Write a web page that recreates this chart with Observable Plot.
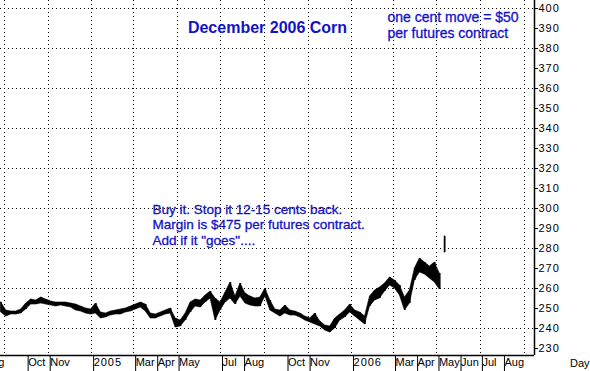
<!DOCTYPE html>
<html>
<head>
<meta charset="utf-8">
<script src="https://cdn.jsdelivr.net/npm/d3@7"></script>
<script src="https://cdn.jsdelivr.net/npm/@observablehq/plot@0.6"></script>
<style>
  html, body { margin: 0; padding: 0; background: #fff; }
  #chart svg { display: block; }
</style>
</head>
<body>
<div id="chart"></div>
<script>
// ---- data (weekly high / low, cents per bushel) ----
const priceDates = [
  "2004-08-27","2004-09-03","2004-09-10","2004-09-17","2004-09-24","2004-10-01","2004-10-08","2004-10-15","2004-10-22","2004-10-29",
  "2004-11-05","2004-11-12","2004-11-19","2004-11-26","2004-12-03","2004-12-10","2004-12-17","2004-12-24","2004-12-31",
  "2005-01-07","2005-01-14","2005-01-21","2005-01-28","2005-02-04","2005-02-11","2005-02-18","2005-02-25",
  "2005-03-04","2005-03-11","2005-03-18","2005-03-25","2005-04-01","2005-04-08","2005-04-15","2005-04-22","2005-04-29",
  "2005-05-06","2005-05-13","2005-05-20","2005-05-27","2005-06-03","2005-06-10","2005-06-17","2005-06-24",
  "2005-07-01","2005-07-08","2005-07-15","2005-07-22","2005-07-29","2005-08-05","2005-08-12","2005-08-19","2005-08-26",
  "2005-09-02","2005-09-09","2005-09-16","2005-09-23","2005-09-30","2005-10-07","2005-10-14","2005-10-21","2005-10-28",
  "2005-11-04","2005-11-11","2005-11-18","2005-11-25","2005-12-02","2005-12-09","2005-12-16","2005-12-23","2005-12-30",
  "2006-01-06","2006-01-13","2006-01-20","2006-01-27","2006-02-03","2006-02-10","2006-02-17","2006-02-24",
  "2006-03-03","2006-03-10","2006-03-17","2006-03-24","2006-03-31","2006-04-07","2006-04-14","2006-04-21","2006-04-28",
  "2006-05-05","2006-05-12"
];
const priceHigh = [
  253,249,248.5,248.5,249.5,252.5,254.5,254,255.5,254.5,
  253.5,253,253,253,252.5,252,251,250,249.5,
  252.5,248,247.5,248.5,249,249.5,250,251,
  252,253,252,247.5,247,248,249,250,245,
  244,247.5,253,254.5,254,256.5,258.5,255,
  253,258,263,256,262.5,257.5,256,255,255.5,
  260,254,249.5,249,251.5,249,248.5,247.5,246,
  245,247.5,243.5,241.5,241,245,247,249,252,
  249,248,246,256,259,260.5,262.5,265.5,
  264,261.5,255.5,259,270,275,273,271,273,
  267.5,286
];
const priceLow = [
  248,246,247,247,247.5,249.5,252,252,252.5,252,
  251.5,251,251.5,251,250.5,249,248.5,247.5,247,
  247.5,245,245.5,246.5,247,247,248,248.5,
  249.5,250.5,248.5,245,245,246,247,247.5,240.5,
  241,244,248,251,250.5,253,255,244,
  249,253,255,252,256,252.5,251.5,251,251,
  256,249,247.5,246,247.5,246.5,246.5,245.5,244,
  243,242,241,239,238,240,244,245.5,248,
  246,244,242,251,254,255,258.5,261.5,
  260,256.5,249,252.5,264,268,267,265,263,
  259.5,278
];
// trading segments (the last week gapped up, drawn apart from the rest)
const priceSegment = priceDates.map((d, i) => i < priceDates.length - 1 ? "a" : "b");

// ---- axes, grid and annotation text ----
const monthTicks = ["2004-08-01","2004-10-01","2004-11-01","2005-01-01","2005-03-01","2005-04-01","2005-05-01",
  "2005-07-01","2005-08-01","2005-10-01","2005-11-01","2006-01-01","2006-03-01","2006-04-01","2006-05-01",
  "2006-06-01","2006-07-01","2006-08-01"];
const monthLabels = ["Aug","Oct","Nov","2005","Mar","Apr","May","Jul","Aug","Oct","Nov","2006","Mar","Apr","May","Jun","Jul","Aug"];
const gridDates = ["2004-09-01","2004-11-01","2005-01-01","2005-03-01","2005-05-01","2005-07-01","2005-09-01",
  "2005-11-01","2006-01-01","2006-03-01","2006-05-01","2006-07-01","2006-09-01"];
const gridValues = [240,260,280,300,320,340,360,380,400];
const yTicks = d3.range(230, 401, 10);
const xDomain = ["2004-08-26","2006-09-15"];
const yDomain = [226.5, 404];

const titleText = "December 2006 Corn";
const noteTopRight = "one cent move = $50\nper futures contract";
const noteMiddle = "Buy it. Stop it 12-15 cents back.\nMargin is $475 per futures contract.\nAdd if it \"goes\"....";
const axisName = "Day";

// ---- build ----
const parse = d3.utcParse("%Y-%m-%d");
const prices = priceDates.map((d, i) => ({date: parse(d), low: priceLow[i], high: priceHigh[i], seg: priceSegment[i]}));
const ticks = monthTicks.map(parse);
const labelMap = new Map(ticks.map((d, i) => [+d, monthLabels[i]]));
const blue = "#1212c8";

const chart = Plot.plot({
  width: 590,
  height: 371,
  marginTop: 0,
  marginLeft: 0,
  marginRight: 56,
  marginBottom: 16,
  style: {fontFamily: "'Liberation Sans', Arial, sans-serif", background: "#fff", color: "#000", overflow: "hidden"},
  x: {type: "utc", domain: xDomain.map(parse)},
  y: {domain: yDomain},
  marks: [
    Plot.ruleY(gridValues, {stroke: "#000", strokeDasharray: "1,3", strokeWidth: 1, shapeRendering: "crispEdges"}),
    Plot.ruleX(gridDates.map(parse), {stroke: "#000", strokeDasharray: "1,3", strokeWidth: 1, shapeRendering: "crispEdges"}),
    Plot.areaY(prices, {x: "date", y1: "low", y2: "high", z: "seg", fill: "#000", stroke: "#000", strokeWidth: 0.6}),
    Plot.ruleX(prices, {x: "date", y1: "low", y2: "high", stroke: "#000", strokeWidth: 1.5}),
    Plot.ruleY([yDomain[0]], {stroke: "#000", strokeWidth: 1.5}),
    Plot.ruleX([parse(xDomain[1])], {stroke: "#000", strokeWidth: 1.5}),
    Plot.axisY(yTicks, {anchor: "right", tickSize: 3, tickPadding: 1, fontSize: 11, tickFormat: d => String(d)}),
    Plot.axisX(ticks, {anchor: "bottom", tickSize: 16, tickPadding: -13, textAnchor: "start", dx: 2,
      fontSize: 11, tickFormat: d => labelMap.get(+d), strokeWidth: 1}),
    Plot.text([axisName], {frameAnchor: "bottom-right", dx: 55, dy: 8, textAnchor: "end", lineAnchor: "middle", fontSize: 11, fill: "#000"}),
    Plot.text([titleText], {frameAnchor: "top", dy: 27, lineAnchor: "middle", fontSize: 16, fontWeight: "bold", fill: blue}),
    Plot.text([noteTopRight], {frameAnchor: "top-left", dx: 387, dy: 24, textAnchor: "start", lineAnchor: "middle",
      fontSize: 14, lineHeight: 1.15, fill: blue, stroke: blue, strokeWidth: 0.3}),
    Plot.text([noteMiddle], {frameAnchor: "top-left", dx: 152, dy: 224, textAnchor: "start", lineAnchor: "middle",
      fontSize: 13.5, lineHeight: 1.15, fill: blue, stroke: blue, strokeWidth: 0.3})
  ]
});
document.getElementById("chart").appendChild(chart);
// numeric tick labels in the reference are drawn in a wider bitmap font
chart.querySelectorAll("text").forEach(t => {
  if (/^\d+$/.test(t.textContent.trim())) t.setAttribute("letter-spacing", "1");
});
</script>
</body>
</html>
